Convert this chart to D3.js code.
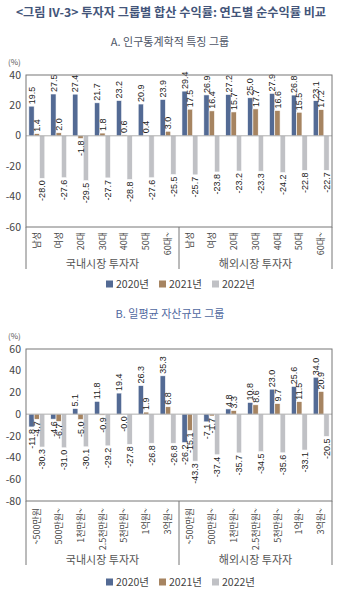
<!DOCTYPE html>
<html>
<head>
<meta charset="utf-8">
<script src="https://cdn.jsdelivr.net/npm/d3@7"></script>
<style>
  body { margin: 0; background: #fff; }
  svg text { font-family: "Noto Sans CJK KR", "Noto Sans", sans-serif; }
  .num { font-family: "Liberation Sans Narrow", "Arial Narrow", "Liberation Sans", sans-serif; }
</style>
</head>
<body>
<div id="chart"></div>
<script>
// 연도 / 시장 구분
const years = ['2020년', '2021년', '2022년'];
const markets = ['국내시장 투자자', '해외시장 투자자'];

// A. 인구통계학적 특징 그룹
const demoCats = ['남성', '여성', '20대', '30대', '40대', '50대', '60대~'];
const demo2020 = [19.5, 27.5, 27.4, 21.7, 23.2, 20.9, 23.9, 29.4, 26.9, 27.2, 25.0, 27.9, 26.8, 23.1];
const demo2021 = [1.4, 2.0, -1.8, 1.8, 0.6, 0.4, 3.0, 17.5, 16.4, 15.7, 17.7, 16.6, 15.5, 17.2];
const demo2022 = [-28.0, -27.6, -29.5, -27.7, -28.8, -27.6, -25.5, -25.7, -23.8, -23.2, -23.3, -24.2, -22.8, -22.7];
const demoTicks = [40, 20, 0, -20, -40, -60];

// B. 일평균 자산규모 그룹
const assetCats = ['~500만원', '500만원~', '1천만원~', '2.5천만원~', '5천만원~', '1억원~', '3억원~'];
const asset2020 = [-11.8, -4.6, 5.1, 11.8, 19.4, 26.3, 35.3, -26.2, -7.1, 4.8, 10.8, 23.0, 25.6, 34.0];
const asset2021 = [-4.7, -6.7, -5.0, -0.9, -0.0, 1.9, 6.8, -15.1, -1.7, 3.3, 8.6, 9.7, 11.5, 20.9];
const asset2022 = [-30.3, -31.0, -30.1, -29.2, -27.8, -26.8, -26.8, -43.3, -37.4, -35.7, -34.5, -35.6, -33.1, -20.5];
const assetTicks = [60, 40, 20, 0, -20, -40, -60, -80];

const colors = ['#536a94', '#a68461', '#c0c1c5'];

const W = 339, H = 593;
const left = 26, right = 332;

const svg = d3.select('#chart').append('svg')
    .attr('width', W)
    .attr('height', H);

// 제목
svg.append('text')
    .attr('x', 171).attr('y', 17)
    .attr('text-anchor', 'middle')
    .attr('font-size', 12.2)
    .attr('font-weight', 'bold')
    .attr('fill', '#43557a')
    .text('<그림 IV-3> 투자자 그룹별 합산 수익률: 연도별 순수익률 비교');

// 음수 부호는 하이픈으로 표기
function fmt(v) {
    return Object.is(v, -0) ? '-0.0' : v.toFixed(1);
}

function drawPanel(cfg) {
    const g = svg.append('g');
    const cats = markets.flatMap(m => cfg.cats.map(c => m + '|' + c));
    const series = [cfg.s2020, cfg.s2021, cfg.s2022];

    g.append('text')
        .attr('x', 170).attr('y', cfg.subY)
        .attr('text-anchor', 'middle')
        .attr('font-size', 11)
        .attr('fill', cfg.subColor)
        .text(cfg.subtitle);

    const y = d3.scaleLinear().domain(cfg.domain).range([cfg.bottom, cfg.top]);
    const x0 = d3.scaleBand().domain(cats).range([left, right])
        .paddingInner(0.27).paddingOuter(0.13);
    const x1 = d3.scaleBand().domain(d3.range(3)).range([0, x0.bandwidth()]);

    // (%) 단위
    g.append('text')
        .attr('x', 8).attr('y', cfg.top - 10)
        .attr('font-size', 8)
        .attr('fill', '#555')
        .text('(%)');

    // y축 눈금
    g.append('g').selectAll('text')
        .data(cfg.ticks)
        .join('text')
        .attr('x', 21)
        .attr('y', d => y(d))
        .attr('dy', '0.35em')
        .attr('text-anchor', 'end')
        .attr('font-size', 10.5)
        .attr('fill', '#444')
        .text(d => d);

    // 막대
    const rows = cats.map((c, i) => ({ c, vals: series.map(s => s[i]) }));
    const grp = g.append('g').selectAll('g')
        .data(rows)
        .join('g')
        .attr('transform', d => `translate(${x0(d.c)},0)`);

    grp.selectAll('rect')
        .data(d => d.vals.map((v, k) => ({ v, k })))
        .join('rect')
        .attr('x', d => x1(d.k))
        .attr('y', d => y(Math.max(0, d.v)))
        .attr('width', x1.bandwidth())
        .attr('height', d => Math.abs(y(d.v) - y(0)))
        .attr('fill', d => colors[d.k])
        .attr('stroke', '#fff')
        .attr('stroke-width', 0.6);

    // 값 라벨 (세로 회전)
    grp.selectAll('text')
        .data(d => d.vals.map((v, k) => ({ v, k })))
        .join('text')
        .attr('class', 'num')
        .attr('transform', d => {
            const cx = x1(d.k) + x1.bandwidth() / 2;
            const yy = d.v >= 0 && !Object.is(d.v, -0) ? y(d.v) - 2 : y(d.v) + 2;
            return `translate(${cx},${yy}) rotate(-90)`;
        })
        .attr('dy', '0.35em')
        .attr('text-anchor', d => d.v >= 0 && !Object.is(d.v, -0) ? 'start' : 'end')
        .attr('font-size', 9)
        .attr('fill', '#222')
        .text(d => fmt(d.v));

    // 0 기준선
    g.append('line')
        .attr('x1', left).attr('x2', right)
        .attr('y1', y(0)).attr('y2', y(0))
        .attr('stroke', '#999').attr('stroke-width', 0.8);

    // 외곽 프레임
    g.append('rect')
        .attr('x', left).attr('y', cfg.top)
        .attr('width', right - left).attr('height', cfg.bottom - cfg.top)
        .attr('fill', 'none')
        .attr('stroke', '#777').attr('stroke-width', 1);

    // 시장 구분선
    const mid = x0(cats[7]) - x0.step() * x0.paddingInner() / 2;
    [left, mid, right].forEach(xx => {
        g.append('line')
            .attr('x1', xx).attr('x2', xx)
            .attr('y1', cfg.bottom).attr('y2', cfg.bottom + cfg.sepLen)
            .attr('stroke', '#777').attr('stroke-width', 1);
    });

    // 범주 라벨
    g.append('g').selectAll('text')
        .data(cats)
        .join('text')
        .attr('transform', d => `translate(${x0(d) + x0.bandwidth() / 2},${cfg.bottom + cfg.labelGap}) rotate(-90)`)
        .attr('dy', '0.35em')
        .attr('text-anchor', 'end')
        .attr('font-size', 9)
        .attr('fill', '#444')
        .text(d => d.split('|')[1]);

    // 시장 라벨
    g.append('g').selectAll('text')
        .data(markets)
        .join('text')
        .attr('x', (d, i) => i === 0 ? (left + mid) / 2 : (mid + right) / 2)
        .attr('y', cfg.groupY)
        .attr('text-anchor', 'middle')
        .attr('font-size', 11)
        .attr('fill', '#555')
        .text(d => d);

    // 범례
    const leg = g.append('g').selectAll('g')
        .data(years)
        .join('g')
        .attr('transform', (d, i) => `translate(${106 + i * 53},${cfg.legendY})`);
    leg.append('rect')
        .attr('x', 0).attr('y', -3.5)
        .attr('width', 7).attr('height', 7)
        .attr('fill', (d, i) => colors[i]);
    leg.append('text')
        .attr('x', 10).attr('y', 0)
        .attr('dy', '0.35em')
        .attr('font-size', 10.5)
        .attr('fill', '#444')
        .text(d => d);
}

drawPanel({
    subtitle: 'A. 인구통계학적 특징 그룹', subY: 46, subColor: '#4d5566',
    cats: demoCats, s2020: demo2020, s2021: demo2021, s2022: demo2022,
    domain: [-60, 40], ticks: demoTicks, top: 75, bottom: 227,
    sepLen: 42, labelGap: 5, groupY: 268, legendY: 284
});

drawPanel({
    subtitle: 'B. 일평균 자산규모 그룹', subY: 318, subColor: '#5068a0',
    cats: assetCats, s2020: asset2020, s2021: asset2021, s2022: asset2022,
    domain: [-80, 60], ticks: assetTicks, top: 349, bottom: 501,
    sepLen: 64, labelGap: 7, groupY: 564, legendY: 582
});
</script>
</body>
</html>
